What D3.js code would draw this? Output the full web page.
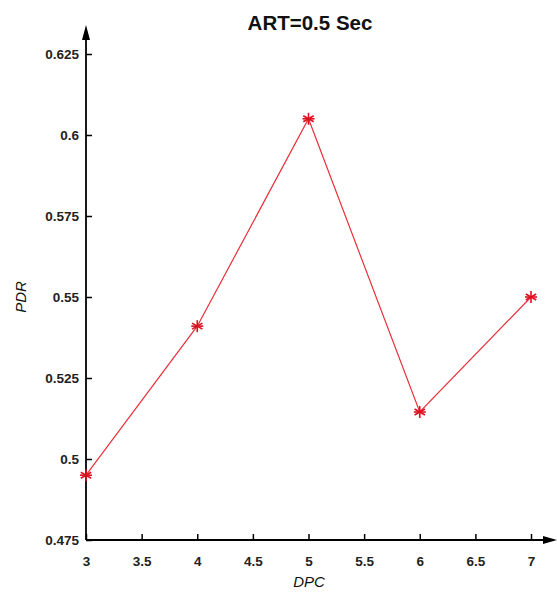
<!DOCTYPE html>
<html>
<head>
<meta charset="utf-8">
<script src="https://cdn.jsdelivr.net/npm/d3@7"></script>
<style>
  html, body { margin: 0; padding: 0; background: #fff; }
  svg { display: block; }
</style>
</head>
<body>
<svg id="chart" width="557" height="594"></svg>
<script>
// DPC values on the x axis and measured PDR for each
const dpc = [3, 4, 5, 6, 7];
const pdr = [0.495, 0.541, 0.605, 0.5145, 0.550];

const xTicks = [3, 3.5, 4, 4.5, 5, 5.5, 6, 6.5, 7];
const yTicks = [0.475, 0.5, 0.525, 0.55, 0.575, 0.6, 0.625];
const xTickLabels = ["3", "3.5", "4", "4.5", "5", "5.5", "6", "6.5", "7"];
const yTickLabels = ["0.475", "0.5", "0.525", "0.55", "0.575", "0.6", "0.625"];

const svg = d3.select("#chart");
const left = 86, bottom = 540;

const x = d3.scaleLinear().domain([3, 7]).range([left, 531]);
const y = d3.scaleLinear().domain([0.475, 0.625]).range([bottom, 54]);

const font = "Liberation Sans, Arial, sans-serif";

// axes with inward ticks
const xAxis = d3.axisBottom(x).tickValues(xTicks)
  .tickFormat((d, i) => xTickLabels[i]).tickSizeInner(-6).tickSizeOuter(0).tickPadding(16);
const yAxis = d3.axisLeft(y).tickValues(yTicks)
  .tickFormat((d, i) => yTickLabels[i]).tickSizeInner(-6).tickSizeOuter(0).tickPadding(7);

const gx = svg.append("g").attr("transform", `translate(0,${bottom})`).call(xAxis);
const gy = svg.append("g").attr("transform", `translate(${left},0)`).call(yAxis);

[gx, gy].forEach(g => {
  g.select(".domain").remove();
  g.selectAll(".tick line").attr("stroke", "#000").attr("stroke-width", 1.5);
  g.selectAll(".tick text").attr("font-family", font).attr("font-size", 13.5)
    .attr("font-weight", "bold").attr("fill", "#222");
});
gy.selectAll(".tick text").attr("dy", "0.36em");

// axis lines with arrowheads
svg.append("line").attr("x1", left).attr("y1", bottom).attr("x2", 548).attr("y2", bottom)
  .attr("stroke", "#000").attr("stroke-width", 1.8);
svg.append("path").attr("d", `M557,${bottom} L543,${bottom - 4} L543,${bottom + 4} Z`).attr("fill", "#000");
svg.append("line").attr("x1", left).attr("y1", bottom).attr("x2", left).attr("y2", 34)
  .attr("stroke", "#000").attr("stroke-width", 1.8);
svg.append("path").attr("d", `M${left},25 L${left - 4},40 L${left + 4},40 Z`).attr("fill", "#000");

// data line
const line = d3.line().x((d, i) => x(dpc[i])).y(d => y(d));
svg.append("path").datum(pdr).attr("d", line)
  .attr("fill", "none").attr("stroke", "#e8303a").attr("stroke-width", 1.2);

// asterisk markers
const marks = svg.append("g");
pdr.forEach((v, i) => {
  const cx = x(dpc[i]), cy = y(v), r = 6;
  const g = marks.append("g").attr("transform", `translate(${cx},${cy})`)
    .attr("stroke", "#e01020").attr("stroke-width", 1.6);
  [0, 60, 120].forEach(a => {
    const rad = a * Math.PI / 180;
    g.append("line")
      .attr("x1", -r * Math.sin(rad)).attr("y1", -r * Math.cos(rad))
      .attr("x2", r * Math.sin(rad)).attr("y2", r * Math.cos(rad));
  });
  g.append("line").attr("x1", -r).attr("y1", 0).attr("x2", r).attr("y2", 0);
});

// title and axis labels
svg.append("text").attr("x", 310).attr("y", 30).attr("text-anchor", "middle")
  .attr("font-family", font).attr("font-size", 20.5).attr("font-weight", "bold")
  .attr("fill", "#111").text("ART=0.5 Sec");
svg.append("text").attr("x", 309).attr("y", 587).attr("text-anchor", "middle")
  .attr("font-family", font).attr("font-size", 15).attr("font-style", "italic")
  .attr("fill", "#111").text("DPC");
svg.append("text").attr("transform", "translate(26,297) rotate(-90)").attr("text-anchor", "middle")
  .attr("font-family", font).attr("font-size", 15).attr("font-style", "italic")
  .attr("fill", "#111").text("PDR");
</script>
</body>
</html>
